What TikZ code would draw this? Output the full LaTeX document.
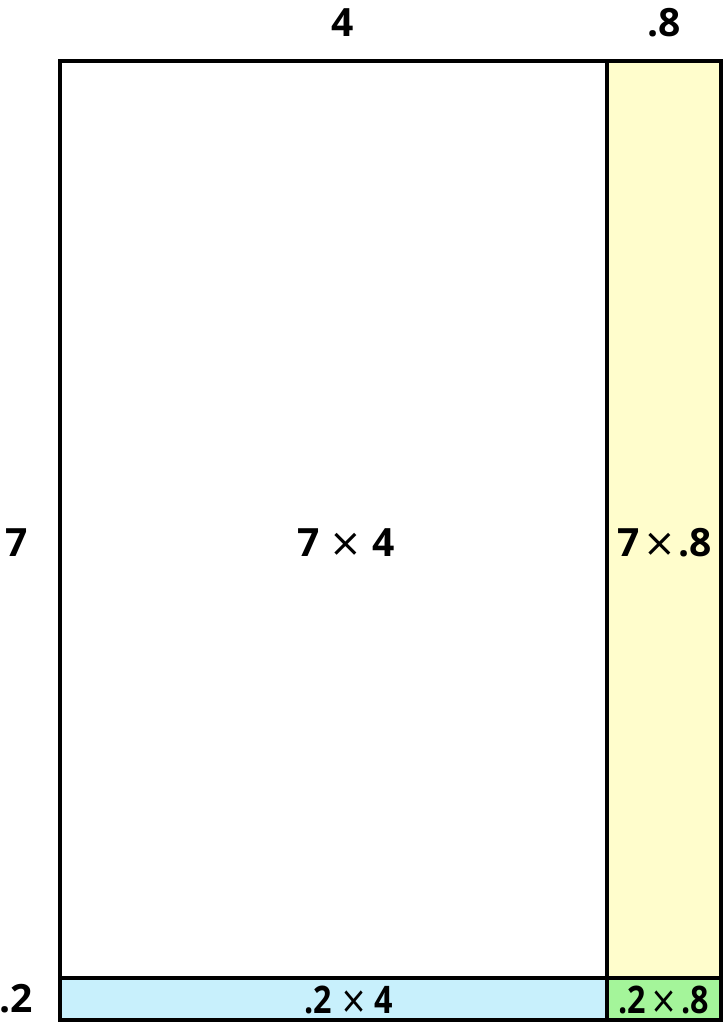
\documentclass[tikz,border=0pt]{standalone}
\usepackage{fontspec}
\setmainfont{Open Sans}
\newfontfamily\crossfont{DejaVu Sans}
\newcommand\bycross{{\crossfont\mdseries ×}}
\definecolor{stripyellow}{HTML}{FFFDCC}
\definecolor{stripblue}{HTML}{C8F0FC}
\definecolor{cornergreen}{HTML}{A4F59A}
\begin{document}
\begin{tikzpicture}[x=1pt,y=1pt,
    cell/.style={draw=black, line width=3.5pt},
    lbl/.style={font=\bfseries\fontsize{39}{44}\selectfont, inner sep=0pt},
    slbl/.style={font=\bfseries\fontsize{38}{42}\selectfont, inner sep=0pt, xscale=.85}]

        \useasboundingbox (0,0) rectangle (725,1024);

        % cells
        \fill[white] (0,0) rectangle (725,1024);
        \path[cell] (60,46) rectangle (607,963);
        \path[cell, fill=stripyellow] (607,46) rectangle (721,963);
        \path[cell, fill=stripblue] (60,4) rectangle (607,46);
        \path[cell, fill=cornergreen] (607,4) rectangle (721,46);

        % side lengths
        \node[lbl] (top4)  at (343,1001) {4};
        \node[lbl] (top8)  at (664,1001) {.8};
        \node[lbl] (left7) at (17,481)   {7};
        \node[lbl] (left2) at (16,25)    {.2};

        % areas
        \node[lbl] (big)   at (346,481) {7\hspace{10pt}\bycross\hspace{10pt}4};
        \node[lbl] (right) at (665,481) {7\hspace{3pt}\bycross\hspace{3pt}.8};
        \node[slbl] (low)  at (349,24)  {.2\hspace{9pt}\bycross\hspace{9pt}4};
        \node[slbl] (corner) at (664,24) {.2\hspace{5pt}\bycross\hspace{5pt}.8};

      \end{tikzpicture}
\end{document}
